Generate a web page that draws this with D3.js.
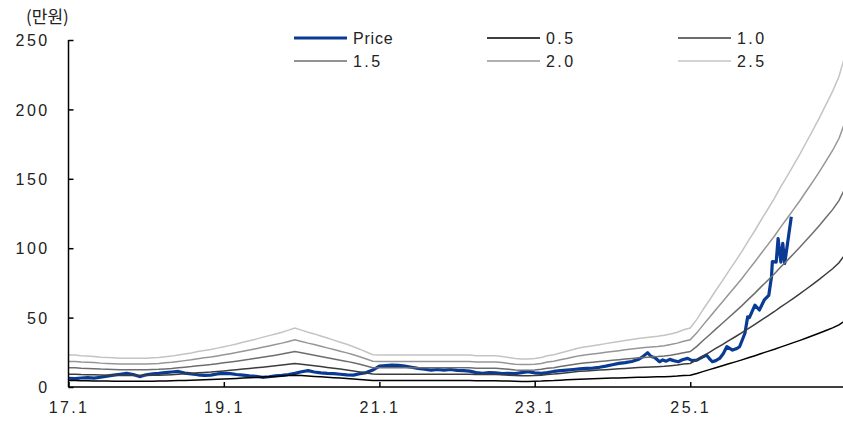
<!DOCTYPE html>
<html><head><meta charset="utf-8">
<script src="https://cdn.jsdelivr.net/npm/d3@7"></script>
<style>
html,body{margin:0;padding:0;background:#fff;}
svg{display:block;}
text{font-family:"Liberation Sans",Arial,sans-serif;fill:#222;}
</style></head>
<body>
<svg id="chart" width="843" height="421"></svg>
<script>
(function(){
// ---------- data ----------
const unitLabel = "(만원)";
const yTickValues = [0, 50, 100, 150, 200, 250];
const xTickDates = ["2017-01-01", "2019-01-01", "2021-01-01", "2023-01-01", "2025-01-01"];
const xTickLabels = ["17.1", "19.1", "21.1", "23.1", "25.1"];

const bandMultiples = [0.5, 1.0, 1.5, 2.0, 2.5];
const bandNames = ["0.5", "1.0", "1.5", "2.0", "2.5"];

// monthly book value per share, 2017-01 .. 2027-01
const bpsStart = "2017-01-01";
const bpsValues = [
  9.2, 9.2, 9.0, 8.9, 8.8, 8.6, 8.5, 8.4, 8.3, 8.3, 8.3, 8.3,        // 2017
  8.3, 8.4, 8.5, 8.7, 8.9, 9.2, 9.5, 9.8, 10.2, 10.5, 10.8, 11.2,    // 2018
  11.6, 12.0, 12.4, 12.9, 13.3, 13.8, 14.3, 14.8, 15.3, 15.8, 16.4, 17.0, // 2019
  16.4, 15.8, 15.3, 14.7, 14.1, 13.5, 12.9, 12.3, 11.6, 10.9, 10.1, 9.3,  // 2020
  9.2, 9.2, 9.2, 9.2, 9.2, 9.2, 9.2, 9.2, 9.2, 9.2, 9.2, 9.2,        // 2021
  9.2, 9.2, 9.2, 9.0, 9.0, 9.0, 9.0, 8.8, 8.5, 8.2, 8.1, 8.1,        // 2022
  8.2, 8.5, 9.0, 9.3, 9.8, 10.3, 10.8, 11.3, 11.6, 11.9, 12.2, 12.5, // 2023
  12.8, 13.1, 13.4, 13.7, 14.0, 14.2, 14.4, 14.6, 14.9, 15.3, 15.8, 16.5, // 2024
  17.0, 19.5, 22.2, 25.0, 27.8, 30.6, 33.4, 36.2, 39.1, 42.1, 45.1, 48.2, // 2025
  51.3, 54.4, 57.5, 60.7, 63.9, 67.2, 70.6, 74.1, 77.7, 81.4, 85.2, 89.5, // 2026
  96.0                                                                // 2027-01
];

const priceDates = [
  "2017-01-01","2017-02-01","2017-03-01","2017-04-01","2017-05-01","2017-06-01","2017-07-01","2017-08-01","2017-09-01","2017-10-01","2017-11-01","2017-12-01",
  "2018-01-01","2018-02-01","2018-03-01","2018-04-01","2018-05-01","2018-06-01","2018-07-01","2018-08-01","2018-09-01","2018-10-01","2018-11-01","2018-12-01",
  "2019-01-01","2019-02-01","2019-03-01","2019-04-01","2019-05-01","2019-06-01","2019-07-01","2019-08-01","2019-09-01","2019-10-01","2019-11-01","2019-12-01",
  "2020-01-01","2020-02-01","2020-03-01","2020-04-01","2020-05-01","2020-06-01","2020-07-01","2020-08-01","2020-09-01","2020-10-01","2020-11-01","2020-12-01",
  "2021-01-01","2021-02-01","2021-03-01","2021-04-01","2021-05-01","2021-06-01","2021-07-01","2021-08-01","2021-09-01","2021-10-01","2021-11-01","2021-12-01",
  "2022-01-01","2022-02-01","2022-03-01","2022-04-01","2022-05-01","2022-06-01","2022-07-01","2022-08-01","2022-09-01","2022-10-01","2022-11-01","2022-12-01",
  "2023-01-01","2023-02-01","2023-03-01","2023-04-01","2023-05-01","2023-06-01","2023-07-01","2023-08-01","2023-09-01","2023-10-01","2023-11-01","2023-12-01",
  "2024-01-01","2024-02-01","2024-03-01","2024-04-01","2024-05-01","2024-05-20","2024-06-05","2024-06-15","2024-07-01","2024-07-18","2024-08-10","2024-08-25",
  "2024-09-10","2024-09-27","2024-10-15","2024-11-06","2024-11-25","2024-12-20","2025-01-10","2025-02-01","2025-02-20","2025-03-18","2025-04-01","2025-04-15",
  "2025-05-01","2025-05-19","2025-06-05","2025-06-22","2025-07-19","2025-08-05","2025-08-21","2025-09-15","2025-09-28","2025-10-06","2025-10-15","2025-11-01",
  "2025-11-22","2025-12-15","2026-01-05","2026-01-18","2026-01-22","2026-02-09","2026-02-18","2026-03-03","2026-03-12","2026-03-21","2026-04-21"
];
const priceValues = [
  6.3, 6.0, 6.5, 6.8, 6.4, 7.0, 7.8, 8.6, 9.2, 9.8, 9.0, 7.5,
  8.8, 9.4, 9.8, 10.4, 10.8, 11.2, 10.0, 9.4, 8.8, 8.4, 8.6, 9.4,
  9.8, 9.6, 9.0, 8.6, 8.0, 7.6, 7.0, 7.4, 8.0, 8.4, 9.0, 9.8,
  11.0, 11.8, 10.8, 10.2, 9.8, 9.6, 9.2, 8.8, 8.6, 9.6, 10.4, 12.2,
  15.0, 15.4, 15.8, 15.6, 15.0, 14.2, 13.4, 12.8, 12.2, 12.6, 12.2, 12.6,
  12.0, 11.8, 11.4, 10.4, 9.8, 10.4, 10.2, 9.6, 9.8, 9.6, 10.4, 11.0,
  10.2, 9.8, 10.4, 11.2, 11.8, 12.2, 12.6, 13.0, 13.4, 13.6, 14.2, 15.0,
  16.0, 17.0, 17.6, 18.4, 19.8, 21.5, 23.5, 24.7, 22.0, 21.3, 18.2, 19.5,
  18.6, 19.9, 19.0, 18.2, 19.6, 20.6, 19.0, 19.4, 21.0, 23.0, 20.5, 18.2,
  19.0, 20.6, 24.0, 29.0, 26.6, 27.5, 29.0, 38.7, 50.6, 50.0, 53.0, 59.0,
  55.5, 62.7, 66.0, 79.5, 90.3, 90.0, 107.0, 90.0, 103.5, 89.0, 122.7
];

// ---------- styles ----------
const bandColors = ["#000000", "#3c3c3c", "#6e6e6e", "#969696", "#c4c4c4"];
const priceColor = "#0a3b94";
const textColor = "#2a2a2a";

// ---------- layout ----------
const plotL = 68.5, plotR = 843, plotT = 40, plotB = 387;
const parse = d3.timeParse("%Y-%m-%d");

const svg = d3.select("#chart");

const x = d3.scaleTime()
  .domain([parse("2017-01-01"), parse("2026-12-20")])
  .range([plotL, plotR]);
const y = d3.scaleLinear().domain([0, 250]).range([plotB, plotT]);

svg.append("defs").append("clipPath").attr("id", "clip")
  .append("rect").attr("x", plotL).attr("y", 0).attr("width", plotR - plotL).attr("height", plotB);

const bpsDates = bpsValues.map((v, i) => d3.timeMonth.offset(parse(bpsStart), i));
const line = d3.line().x(d => x(d[0])).y(d => y(d[1])).curve(d3.curveLinear);

const plot = svg.append("g").attr("clip-path", "url(#clip)");

// price (drawn first, bands over it)
const priceData = priceDates.map((d, i) => [parse(d), priceValues[i]]);
plot.append("path")
  .datum(priceData)
  .attr("fill", "none")
  .attr("stroke", priceColor)
  .attr("stroke-width", 3.2)
  .attr("stroke-linejoin", "round")
  .attr("d", line);

bandMultiples.forEach((m, k) => {
  const data = bpsDates.map((d, i) => [d, bpsValues[i] * m]);
  plot.append("path")
    .datum(data)
    .attr("fill", "none")
    .attr("stroke", bandColors[k])
    .attr("stroke-width", 1.5)
    .attr("d", line);
});

// ---------- axes ----------
const yAxis = d3.axisLeft(y).tickValues(yTickValues).tickSize(-5).tickPadding(0).tickFormat(d3.format("d"));
const gy = svg.append("g").attr("transform", `translate(${plotL},0)`).call(yAxis);
gy.select(".domain").attr("stroke", "#000").attr("stroke-width", 1.5).attr("d", `M0,${plotT}V${plotB}`);
gy.selectAll(".tick line").attr("stroke", "#000").attr("stroke-width", 1.5);
gy.selectAll(".tick text")
  .attr("x", -19).attr("dy", "0.35em")
  .style("font-size", "16px").style("letter-spacing", "2.4px")
  .attr("fill", textColor).attr("text-anchor", "end");

const xAxis = d3.axisBottom(x)
  .tickValues(xTickDates.map(parse))
  .tickSize(-5).tickPadding(0)
  .tickFormat((d, i) => xTickLabels[i]);
const gx = svg.append("g").attr("transform", `translate(0,${plotB})`).call(xAxis);
gx.select(".domain").attr("stroke", "#000").attr("stroke-width", 1.5).attr("d", `M${plotL},0H${plotR}`);
gx.selectAll(".tick line").attr("stroke", "#000").attr("stroke-width", 1.5);
gx.selectAll(".tick text")
  .attr("y", 26).attr("dy", 0)
  .style("font-size", "16px").style("letter-spacing", "2.4px")
  .attr("fill", textColor).attr("text-anchor", "middle");

svg.append("text").attr("x", 26).attr("y", 23)
  .style("font-family", "'Noto Sans CJK KR', sans-serif")
  .style("font-size", "17px").attr("fill", textColor)
  .text(unitLabel);

// ---------- legend ----------
const legendItems = [
  {name: "Price", color: priceColor, width: 3.2, col: 0, row: 0},
  {name: bandNames[0], color: bandColors[0], width: 1.5, col: 1, row: 0},
  {name: bandNames[1], color: bandColors[1], width: 1.5, col: 2, row: 0},
  {name: bandNames[2], color: bandColors[2], width: 1.5, col: 0, row: 1},
  {name: bandNames[3], color: bandColors[3], width: 1.5, col: 1, row: 1},
  {name: bandNames[4], color: bandColors[4], width: 1.5, col: 2, row: 1}
];
const colX = [294, 487, 678];
const rowY = [38, 61];
const lg = svg.append("g");
legendItems.forEach(it => {
  const lx = colX[it.col], ly = rowY[it.row];
  lg.append("line").attr("x1", lx).attr("x2", lx + 53).attr("y1", ly).attr("y2", ly)
    .attr("stroke", it.color).attr("stroke-width", it.width);
  lg.append("text").attr("x", lx + 59).attr("y", ly).attr("dy", "0.36em")
    .style("font-size", "16px")
    .style("letter-spacing", it.name === "Price" ? "0.8px" : "2.4px")
    .attr("fill", textColor).text(it.name);
});
})();
</script>
</body></html>
